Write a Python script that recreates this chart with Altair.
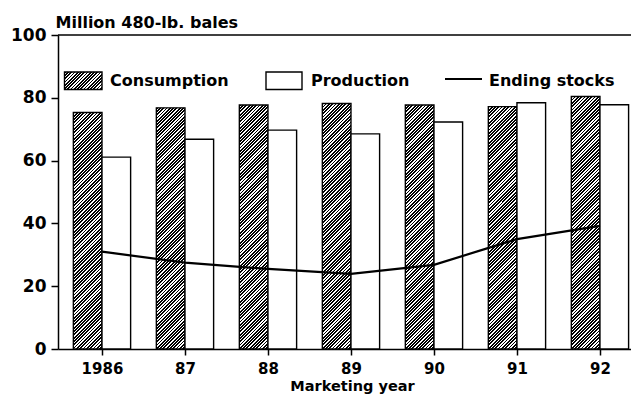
import altair as alt
import pandas as pd

# ---- data ----
years = [1986, 1987, 1988, 1989, 1990, 1991, 1992]
tick_labels = ["1986", "87", "88", "89", "90", "91", "92"]
consumption = [75.3, 76.8, 77.7, 78.2, 77.7, 77.2, 80.4]
production = [61.1, 66.8, 69.7, 68.5, 72.3, 78.4, 77.8]
ending_stocks = [31.0, 27.5, 25.5, 23.9, 26.8, 35.0, 39.2]
legend_labels = ["Consumption", "Production", "Ending stocks"]
y_ticks = [0, 20, 40, 60, 80, 100]

# ---- layout / style ----
FONT = "DejaVu Sans"
PLOT_W, PLOT_H = 573, 314
X_DOMAIN = [1985.47, 1992.374]
Y_DOMAIN = [0, 100]
HALF = 0.345  # bar width in years

px_per_unit = PLOT_H / (Y_DOMAIN[1] - Y_DOMAIN[0])
px_per_year = PLOT_W / (X_DOMAIN[1] - X_DOMAIN[0])
bar_w_px = HALF * px_per_year


def hatch(w, h, period=3.3, ink=0.55):
    """Diagonal '/' hatch built as a hard-stop linear gradient."""
    r = w / h
    s = (r + 1) / (r * r + 1)
    n = max(1, round((w + h) / period))
    stops = []
    for k in range(n):
        a = round(k / n, 5)
        b = round((k + ink) / n, 5)
        c = round((k + 1) / n, 5)
        stops += [
            {"color": "black", "offset": a},
            {"color": "black", "offset": b},
            {"color": "white", "offset": b},
            {"color": "white", "offset": c},
        ]
    return {"gradient": "linear", "stops": stops,
            "x1": 0, "y1": 0, "x2": round(r * s, 5), "y2": round(s, 5)}


label_expr = ("[" + ",".join(f"'{t}'" for t in tick_labels) + "][indexof(["
              + ",".join(str(y) for y in years) + "], datum.value)]")

x_scale = alt.Scale(domain=X_DOMAIN, nice=False, zero=False)
y_scale = alt.Scale(domain=Y_DOMAIN, nice=False, zero=False)

x_axis = alt.Axis(
    values=years, labelExpr=label_expr, title="Marketing year", grid=False,
    tickSize=6, tickWidth=1.5, tickColor="black", domainColor="black", domainWidth=1.5,
    labelPadding=6, labelFont=FONT, labelFontWeight="bold", labelFontSize=15, labelColor="black",
    titleFont=FONT, titleFontWeight="bold", titleFontSize=14.5, titleColor="black",
    titleX=294, titleY=41.5, titleBaseline="alphabetic", titleAlign="center",
)
y_axis = alt.Axis(
    values=y_ticks, title="Million 480-lb. bales", grid=False,
    tickSize=7, tickWidth=1.5, tickColor="black", domainColor="black", domainWidth=1.5,
    labelPadding=5, labelFont=FONT, labelFontWeight="bold", labelFontSize=17, labelColor="black",
    titleFont=FONT, titleFontWeight="bold", titleFontSize=16, titleColor="black",
    titleAngle=0, titleAlign="left", titleBaseline="alphabetic", titleX=-3, titleY=-8,
)

df = pd.DataFrame({"year": years, "consumption": consumption,
                   "production": production, "stocks": ending_stocks})


def X(field):
    return alt.X(field, type="quantitative", scale=x_scale, axis=x_axis)


def Y(field):
    return alt.Y(field, type="quantitative", scale=y_scale, axis=y_axis)


layers = []

# consumption bars (hatched), one layer per bar so each hatch fits its bar
for yr, val in zip(years, consumption):
    layers.append(
        alt.Chart(df)
        .transform_filter(alt.datum.year == yr)
        .transform_calculate(x0=f"datum.year - {HALF}", zero="0")
        .mark_rect(fill=hatch(bar_w_px, val * px_per_unit), stroke="black", strokeWidth=1.4)
        .encode(x=X("x0"), x2="year:Q", y=Y("consumption"), y2="zero:Q")
    )

# production bars (white)
layers.append(
    alt.Chart(df)
    .transform_calculate(x1=f"datum.year + {HALF}", zero="0")
    .mark_rect(fill="white", stroke="black", strokeWidth=1.4)
    .encode(x=X("year"), x2="x1:Q", y=Y("production"), y2="zero:Q")
)

# ending stocks line
layers.append(
    alt.Chart(df).mark_line(color="black", strokeWidth=2.2)
    .encode(x=X("year"), y=Y("stocks"))
)

# top frame line
layers.append(
    alt.Chart(pd.DataFrame({"v": [Y_DOMAIN[1]]})).mark_rule(color="black", strokeWidth=1.5)
    .encode(y=Y("v"))
)

# ---- legend ----
one = pd.DataFrame({"a": [0]})
text_kw = dict(align="left", baseline="middle", font=FONT, fontWeight="bold",
               fontSize=16, color="black")
layers += [
    alt.Chart(one).mark_rect(fill=hatch(37.5, 17.5), stroke="black", strokeWidth=1.4)
    .encode(x=alt.value(6.5), x2=alt.value(44), y=alt.value(37), y2=alt.value(54.5)),
    alt.Chart(one).mark_text(**text_kw)
    .encode(x=alt.value(52), y=alt.value(46), text=alt.value(legend_labels[0])),
    alt.Chart(one).mark_rect(fill="white", stroke="black", strokeWidth=1.4)
    .encode(x=alt.value(208), x2=alt.value(244), y=alt.value(37), y2=alt.value(54.5)),
    alt.Chart(one).mark_text(**text_kw)
    .encode(x=alt.value(253), y=alt.value(46), text=alt.value(legend_labels[1])),
    alt.Chart(one).mark_rule(color="black", strokeWidth=1.8)
    .encode(x=alt.value(387), x2=alt.value(424), y=alt.value(44)),
    alt.Chart(one).mark_text(**text_kw)
    .encode(x=alt.value(431), y=alt.value(46), text=alt.value(legend_labels[2])),
]

chart = (
    alt.layer(*layers)
    .properties(width=PLOT_W, height=PLOT_H,
                autosize=alt.AutoSizeParams(type="none"),
                padding={"left": 50, "top": 27, "right": 0, "bottom": 45},
                background="white")
    .configure_view(stroke="transparent")
)

chart.save("out.html", embed_options={"renderer": "svg", "actions": False})
